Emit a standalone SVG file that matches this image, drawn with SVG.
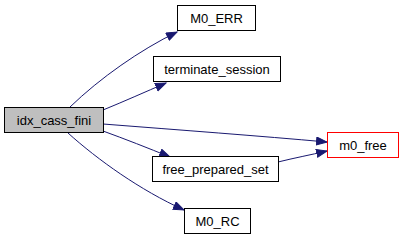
<svg xmlns="http://www.w3.org/2000/svg" width="403" height="240" viewBox="0 0 403 240">
  <style>
    .node rect { fill: #ffffff; stroke: #000000; stroke-width: 1; }
    .node text { font-family: "Liberation Sans", Arial, sans-serif; font-size: 13px; fill: #000000; text-anchor: middle; }
    #n_root rect { fill: #bfbfbf; }
    #n_m0_free rect { stroke: #ff0000; }
    .edge { fill: none; stroke: #191970; stroke-width: 1; marker-end: url(#arrow); }
  </style>
  <defs>
    <marker id="arrow" markerUnits="userSpaceOnUse" markerWidth="13" markerHeight="10" refX="11" refY="4.5" orient="auto">
      <path d="M0.5,0.5 L11,4.5 L0.5,8.5 z" fill="#191970" stroke="#191970" stroke-width="1"/>
    </marker>
  </defs>

  <rect width="403" height="240" fill="#ffffff"/>

  <g id="edges">
    <path class="edge" d="M70,107 C100,78 140,50 177,32"/>
    <path class="edge" d="M103,110 C125,101 145,92 166,83"/>
    <path class="edge" d="M103,124 C180,130 260,136 327,142"/>
    <path class="edge" d="M103,131 C125,139 148,148 170,157"/>
    <path class="edge" d="M68,133 C98,160 140,190 184,210"/>
    <path class="edge" d="M278,162 C294,158 310,155 327,151"/>
  </g>

  <g id="n_root" class="node">
    <rect x="4.5" y="107.5" width="99" height="25"/>
    <text x="54" y="124.5">idx_cass_fini</text>
  </g>
  <g id="n_M0_ERR" class="node">
    <rect x="177.5" y="5.5" width="78" height="25"/>
    <text x="216.5" y="22.5">M0_ERR</text>
  </g>
  <g id="n_terminate_session" class="node">
    <rect x="153.5" y="56.5" width="127" height="25"/>
    <text x="217" y="73.5">terminate_session</text>
  </g>
  <g id="n_m0_free" class="node">
    <rect x="327.5" y="132.5" width="71" height="25"/>
    <text x="363" y="149.5">m0_free</text>
  </g>
  <g id="n_free_prepared_set" class="node">
    <rect x="152.5" y="156.5" width="126" height="25"/>
    <text x="215.5" y="173.5">free_prepared_set</text>
  </g>
  <g id="n_M0_RC" class="node">
    <rect x="184.5" y="208.5" width="66" height="25"/>
    <text x="217.5" y="225.5">M0_RC</text>
  </g>
</svg>
